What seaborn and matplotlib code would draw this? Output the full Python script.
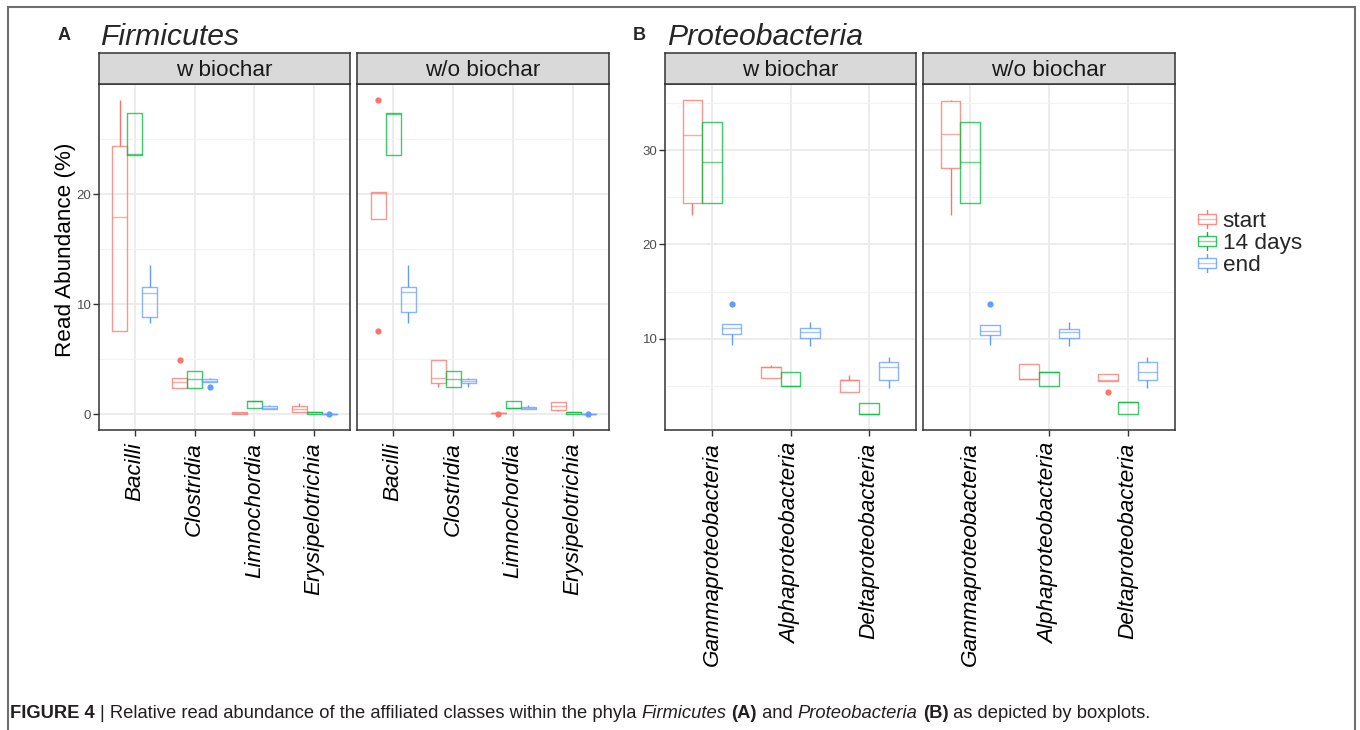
import matplotlib
matplotlib.use("Agg")
import matplotlib.pyplot as plt
from matplotlib import font_manager
from matplotlib.patches import Patch, Rectangle
from matplotlib.lines import Line2D
from matplotlib.legend_handler import HandlerBase
import seaborn as sns
import pandas as pd
import numpy as np

# ---------------- data (read abundance %, replicate values per class) ----------------
TIMES = ["start", "14 days", "end"]
PALETTE = ["#F8766D", "#00BA38", "#619CFF"]
TREATMENTS = ["w biochar", "w/o biochar"]

FIRM_CLASSES = ["Bacilli", "Clostridia", "Limnochordia", "Erysipelotrichia"]
PROT_CLASSES = ["Gammaproteobacteria", "Alphaproteobacteria", "Deltaproteobacteria"]

# Firmicutes, w biochar
FIRM_W_START = [[7.57, 7.57, 17.9, 24.4, 28.6], [2.42, 2.42, 2.9, 3.33, 4.9],
                [0.03, 0.05, 0.1, 0.22, 0.25], [0.21, 0.21, 0.48, 0.78, 1.05]]
FIRM_W_14D = [[23.6, 23.6, 23.65, 27.4, 27.4], [2.42, 2.42, 3.2, 3.9, 3.9],
              [0.6, 0.6, 1.2, 1.24, 1.24], [0.0, 0.0, 0.2, 0.24, 0.24]]
FIRM_W_END = [[8.27, 8.87, 11.05, 11.6, 13.6], [2.48, 2.92, 3.0, 3.18, 3.33],
              [0.45, 0.48, 0.6, 0.73, 0.8], [0.0, 0.04, 0.05, 0.06, 0.07]]
# Firmicutes, w/o biochar
FIRM_WO_START = [[7.6, 17.8, 20.1, 20.2, 28.6], [2.45, 2.88, 3.27, 4.94, 4.94],
                 [0.0, 0.1, 0.12, 0.15, 0.17], [0.3, 0.39, 0.75, 1.09, 1.09]]
FIRM_WO_14D = [[23.6, 23.6, 27.3, 27.4, 27.4], [2.45, 2.45, 3.18, 3.9, 3.9],
               [0.57, 0.57, 0.6, 1.18, 1.18], [0.0, 0.0, 0.2, 0.24, 0.24]]
FIRM_WO_END = [[8.27, 9.33, 11.15, 11.6, 13.6], [2.5, 2.82, 3.03, 3.18, 3.33],
               [0.45, 0.47, 0.6, 0.7, 0.8], [0.0, 0.04, 0.05, 0.06, 0.07]]
# Proteobacteria, w biochar
PROT_W_START = [[23.18, 24.42, 31.66, 35.37, 35.37], [5.79, 5.79, 6.95, 6.99, 7.2],
                [4.3, 4.3, 5.6, 5.65, 6.14]]
PROT_W_14D = [[24.42, 24.42, 28.73, 33.0, 33.0], [4.94, 4.94, 4.96, 6.43, 6.43],
              [1.97, 1.97, 2.0, 3.21, 3.21]]
PROT_W_END = [[9.33, 10.46, 11.09, 11.59, 13.71], [9.22, 10.1, 10.74, 11.16, 11.8],
              [4.76, 5.61, 7.03, 7.56, 8.09]]
# Proteobacteria, w/o biochar
PROT_WO_START = [[23.18, 28.13, 31.7, 35.27, 35.37], [5.72, 5.72, 5.75, 7.31, 7.31],
                 [4.3, 5.55, 5.6, 6.25, 6.25]]
PROT_WO_14D = [[24.42, 24.42, 28.73, 33.0, 33.0], [4.98, 4.98, 6.45, 6.5, 6.5],
               [1.97, 1.97, 3.25, 3.28, 3.28]]
PROT_WO_END = [[9.33, 10.42, 10.81, 11.48, 13.71], [9.22, 10.07, 10.74, 11.02, 11.8],
               [4.76, 5.61, 6.5, 7.56, 8.09]]

FIRM_TICKS = [0, 10, 20]
PROT_TICKS = [10, 20, 30]


def build_df(classes, start, d14, end):
    rows = []
    for t, block in zip(TIMES, [start, d14, end]):
        for c, vals in zip(classes, block):
            for v in vals:
                rows.append({"cls": c, "time": t, "val": v})
    return pd.DataFrame(rows)


firm_w = build_df(FIRM_CLASSES, FIRM_W_START, FIRM_W_14D, FIRM_W_END)
firm_wo = build_df(FIRM_CLASSES, FIRM_WO_START, FIRM_WO_14D, FIRM_WO_END)
prot_w = build_df(PROT_CLASSES, PROT_W_START, PROT_W_14D, PROT_W_END)
prot_wo = build_df(PROT_CLASSES, PROT_WO_START, PROT_WO_14D, PROT_WO_END)

# ---------------- figure ----------------
sns.set_theme(style="white")
FONT = ["Liberation Sans", "DejaVu Sans"]
plt.rcParams["font.family"] = FONT
_names = {f.name for f in font_manager.fontManager.ttflist}
CAP_FONT = ["Liberation Sans Narrow", "Liberation Sans", "DejaVu Sans"] \
    if "Liberation Sans Narrow" in _names else FONT

W, H = 1360, 730
fig = plt.figure(figsize=(W / 100, H / 100), dpi=100)
fig.patch.set_facecolor("white")


def fx(px):
    return px / W


def fy(py):
    return 1 - py / H


PANEL_TOP, PANEL_BOT, STRIP_TOP = 84, 430, 53


def draw_panel(df, classes, x0, x1, strip, yticks, minor, first):
    ax = fig.add_axes([fx(x0), fy(PANEL_BOT), fx(x1 - x0), (PANEL_BOT - PANEL_TOP) / H])
    sns.boxplot(data=df, x="cls", y="val", hue="time", order=classes, hue_order=TIMES,
                palette=PALETTE, fill=False, width=0.75, gap=0, linewidth=1.0,
                fliersize=4.5, showcaps=False, legend=False, whis=1.5, ax=ax,
                flierprops=dict(marker="o"),
                boxprops=dict(alpha=0.75), medianprops=dict(alpha=0.6))
    for ln in ax.lines:
        if ln.get_marker() not in (None, "None", "", " "):
            ln.set_markerfacecolor(ln.get_markeredgecolor())
            ln.set_markeredgewidth(0)
    allv = df["val"].to_numpy()
    lo, hi = allv.min(), allv.max()
    r = hi - lo
    ax.set_ylim(lo - 0.05 * r, hi + 0.05 * r)
    ax.set_xlim(-0.6, len(classes) - 0.4)
    ax.set_yticks(yticks)
    ax.set_yticks(minor, minor=True)
    ax.grid(which="major", color="#EBEBEB", lw=1.3)
    ax.grid(which="minor", axis="y", color="#F2F2F2", lw=0.8)
    ax.set_axisbelow(True)
    for s in ax.spines.values():
        s.set_color("#333333")
        s.set_linewidth(1.1)
    ax.set_xlabel("")
    ax.set_ylabel("")
    ax.set_xticks(range(len(classes)))
    ax.set_xticklabels(classes, rotation=90, fontstyle="italic", fontsize=16.2,
                       color="black", ha="center", va="top")
    ax.tick_params(axis="x", length=4, width=1, color="#333333", pad=5, bottom=True)
    ax.tick_params(axis="y", which="minor", length=0)
    if first:
        ax.tick_params(axis="y", length=4, width=1, color="#333333", pad=1.5,
                       labelsize=9.5, labelcolor="#4D4D4D", left=True)
    else:
        ax.tick_params(axis="y", length=0, labelleft=False)
    # strip
    sax = fig.add_axes([fx(x0), fy(PANEL_TOP), fx(x1 - x0), (PANEL_TOP - STRIP_TOP) / H])
    sax.set_facecolor("#D9D9D9")
    sax.set_xticks([])
    sax.set_yticks([])
    for s in sax.spines.values():
        s.set_color("#333333")
        s.set_linewidth(1.1)
    sax.text(0.5, 0.42, strip, ha="center", va="center", fontsize=16.2,
             color="#1A1A1A", transform=sax.transAxes)
    return ax


draw_panel(firm_w, FIRM_CLASSES, 99, 350, TREATMENTS[0], FIRM_TICKS, [5, 15, 25], True)
draw_panel(firm_wo, FIRM_CLASSES, 357, 609, TREATMENTS[1], FIRM_TICKS, [5, 15, 25], False)
draw_panel(prot_w, PROT_CLASSES, 665, 916, TREATMENTS[0], PROT_TICKS, [5, 15, 25, 35], True)
draw_panel(prot_wo, PROT_CLASSES, 923, 1175, TREATMENTS[1], PROT_TICKS, [5, 15, 25, 35], False)

# titles and panel letters
fig.text(fx(58), fy(40), "A", fontsize=13, fontweight="bold", va="baseline", ha="left")
fig.text(fx(100), fy(45), "Firmicutes", fontsize=21.7, fontstyle="italic", va="baseline", ha="left")
fig.text(fx(633), fy(40), "B", fontsize=13, fontweight="bold", va="baseline", ha="left")
fig.text(fx(667), fy(45), "Proteobacteria", fontsize=21.7, fontstyle="italic", va="baseline", ha="left")

fig.text(fx(66), fy(249.5), "Read Abundance (%)", rotation=90, ha="center", va="center",
         fontsize=16.2, color="black")


# legend with boxplot-shaped keys
class BoxKeyHandler(HandlerBase):
    def create_artists(self, legend, orig_handle, xdescent, ydescent, width, height,
                       fontsize, trans):
        col = orig_handle.get_edgecolor()
        x0, y0 = -xdescent, -ydescent
        cx = x0 + width / 2
        b0, b1 = y0 + 0.22 * height, y0 + 0.78 * height
        rect = Rectangle((x0, b0), width, b1 - b0, facecolor="white", edgecolor=col,
                         lw=1.0, alpha=0.8, transform=trans)
        med = Line2D([x0, x0 + width], [y0 + height / 2] * 2, color=col, lw=1.0, alpha=0.5,
                     transform=trans)
        w1 = Line2D([cx, cx], [y0, b0], color=col, lw=1.0, transform=trans)
        w2 = Line2D([cx, cx], [b1, y0 + height], color=col, lw=1.0, transform=trans)
        return [w1, w2, rect, med]


handles = [Patch(edgecolor=c, facecolor="none", label=t) for c, t in zip(PALETTE, TIMES)]
fig.legend(handles=handles, labels=TIMES, handler_map={Patch: BoxKeyHandler()},
           loc="upper left", bbox_to_anchor=(fx(1198), fy(210)), frameon=False,
           fontsize=16.2, handlelength=0.8, handleheight=0.85, handletextpad=0.3,
           labelspacing=0.02, borderpad=0, borderaxespad=0)

# outer frame
fig.add_artist(Rectangle((fx(8), -0.05), fx(1355 - 8), fy(7) + 0.05, transform=fig.transFigure,
                         facecolor="none", edgecolor="#6E6E6E", lw=1.5, clip_on=False))

# caption with mixed styles
pieces = [("FIGURE 4 ", "bold", "normal"),
          ("| Relative read abundance of the affiliated classes within the phyla ", "normal", "normal"),
          ("Firmicutes", "normal", "italic"), (" ", "normal", "normal"),
          ("(A)", "bold", "normal"), (" and ", "normal", "normal"),
          ("Proteobacteria", "normal", "italic"), (" ", "normal", "normal"),
          ("(B)", "bold", "normal"), (" as depicted by boxplots.", "normal", "normal")]
renderer = fig.canvas.get_renderer()


def caption(size, draw=True):
    x = 10
    made = []
    for txt, wt, st in pieces:
        t = fig.text(fx(x), fy(713), txt, fontsize=size, fontweight=wt, fontstyle=st,
                     family=CAP_FONT, color="#231F20", va="center", ha="left")
        bb = t.get_window_extent(renderer)
        x += bb.width
        made.append(t)
    if not draw:
        for t in made:
            t.remove()
    return x


end_x = caption(11, draw=False)
size = 11 * (1147 - 10) / (end_x - 10)
caption(size, draw=True)

fig.savefig("out.png", dpi=100)
